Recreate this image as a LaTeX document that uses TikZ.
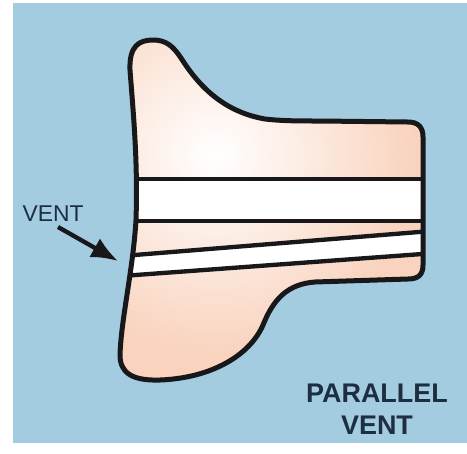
\documentclass[tikz,border=0pt]{standalone}
\usepackage{fontspec}
\setmainfont{Liberation Sans}
\usepackage{tikz}
\usetikzlibrary{positioning, arrows.meta}
\definecolor{skyback}{RGB}{164,204,225}
\definecolor{flesh}{RGB}{249,211,190}
\definecolor{inkblue}{RGB}{28,46,64}
\definecolor{rim}{RGB}{24,24,26}
\tikzset{
	backgroundcolor/.style ={fill=skyback},
	outline/.append style={
		draw=rim,
		line width=1.5mm,
		line join=round
	},
	ventline/.append style={
		draw=rim,
		line width=1.3mm
	},
	labe/.append style={
		text=inkblue,
		inner sep=0pt,
		font={\fontsize{19.5}{22}\selectfont}
	},
	caption/.append style={
		text=inkblue,
		inner sep=0pt,
		align=center,
		font={\fontsize{23}{27}\selectfont\bfseries}
	},
	pointer/.append style={
		draw=rim,
		line width=1.3mm,
		-{Latex[length=8mm,width=6.5mm]}
	}
}
% outline of the cavity, pixel-like units
\newcommand{\moldoutline}{(130,70) .. controls (129,46) and (139,40) .. (153,40)
	.. controls (166,40) and (173,46) .. (181,58)
	.. controls (200,88) and (225,112) .. (265,119)
	.. controls (282,121) and (300,121) .. (320,121)
	-- (408,122) .. controls (418,122) and (423,127) .. (423,137)
	-- (423,265) .. controls (423,274) and (419,279) .. (408,279)
	-- (315,282) .. controls (287,284) and (273,300) .. (263,325)
	.. controls (250,355) and (212,378) .. (160,380)
	.. controls (131,381) and (120,372) .. (120,355)
	.. controls (121,320) and (133,270) .. (136,220)
	.. controls (138,160) and (133,110) .. (130,70) -- cycle}

\begin{document}
\begin{tikzpicture}[x=0.3mm, y=-0.3mm]

\useasboundingbox (0,0) rectangle (467,453);
\fill[white] (0,0) rectangle (467,453);
\fill[backgroundcolor] (13,3) rectangle (467,443);

\begin{scope}
	\clip \moldoutline;
	\fill[flesh] (100,30) rectangle (440,400);
	\shade[inner color=white, outer color=flesh] (215,155) circle (60mm);
	% the two vents
	\fill[white] (100,179) rectangle (440,221);
	\fill[white] (100,257.8) -- (440,230.3) -- (440,252.7) -- (100,277.6) -- cycle;
	\draw[ventline] (100,179) -- (440,179);
	\draw[ventline] (100,221) -- (440,221);
	\draw[ventline] (100,257.8) -- (440,230.3);
	\draw[ventline] (100,277.6) -- (440,252.7);
\end{scope}
\draw[outline] \moldoutline;

\node(ventlbl)[labe] at (53,213.5) {VENT};
\coordinate (venttail) at (58,227);
\coordinate (venttip) at (118,261);
\draw[pointer] (venttail) -- (venttip);

\node(title)[caption] at (377,409) {PARALLEL\\VENT};

\end{tikzpicture}
\end{document}
